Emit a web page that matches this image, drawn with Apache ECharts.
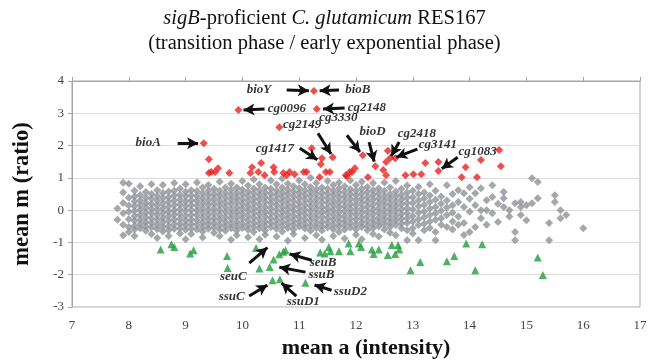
<!DOCTYPE html>
<html>
<head>
<meta charset="utf-8">
<script src="https://cdn.jsdelivr.net/npm/echarts@6/dist/echarts.min.js"></script>
<style>
  html, body {margin: 0; padding: 0; background: #fff;}
  #chart {width: 649px; height: 364px;}
</style>
</head>
<body>
<div id="chart"></div>
<script>
// gray cloud, one entry per x column: [x, [y values]]
const cloud = [
  [7.8, [0.05, -0.3]],
  [7.9, [0.85, 0.55, 0.22, -0.1, -0.45, -0.78]],
  [8.0, [0.82, 0.38, 0.14, -0.05, -0.28, -0.52, -0.68]],
  [8.1, [0.6, 0.42, 0.27, 0.12, -0.03, -0.18, -0.33, -0.48, -0.6, -0.8]],
  [8.2, [0.74, 0.47, 0.31, 0.16, 0.01, -0.14, -0.29, -0.43, -0.56]],
  [8.3, [0.56, 0.39, 0.23, 0.08, -0.07, -0.22, -0.37, -0.51, -0.64]],
  [8.4, [0.8, 0.5, 0.35, 0.19, 0.04, -0.1, -0.25, -0.4, -0.54, -0.74]],
  [8.5, [0.62, 0.44, 0.29, 0.14, 0.0, -0.15, -0.3, -0.45, -0.59, -0.86]],
  [8.6, [0.78, 0.53, 0.37, 0.21, 0.06, -0.09, -0.24, -0.38, -0.52, -0.66]],
  [8.7, [0.58, 0.41, 0.26, 0.11, -0.04, -0.19, -0.34, -0.49, -0.62, -0.8]],
  [8.8, [0.84, 0.6, 0.45, 0.3, 0.15, 0.0, -0.14, -0.29, -0.44, -0.58]],
  [8.9, [0.66, 0.48, 0.33, 0.18, 0.03, -0.12, -0.27, -0.42, -0.56, -0.72]],
  [9.0, [0.8, 0.57, 0.42, 0.27, 0.12, -0.03, -0.18, -0.33, -0.47, -0.61, -0.9]],
  [9.1, [0.62, 0.46, 0.31, 0.16, 0.01, -0.14, -0.29, -0.43, -0.57, -0.74]],
  [9.2, [0.86, 0.59, 0.44, 0.29, 0.14, -0.01, -0.16, -0.31, -0.45, -0.6]],
  [9.3, [0.7, 0.52, 0.37, 0.22, 0.07, -0.08, -0.23, -0.38, -0.52, -0.66, -0.85]],
  [9.4, [0.78, 0.6, 0.45, 0.3, 0.15, 0.0, -0.15, -0.3, -0.44, -0.58]],
  [9.5, [0.66, 0.51, 0.36, 0.21, 0.06, -0.09, -0.24, -0.39, -0.53, -0.7]],
  [9.6, [0.88, 0.6, 0.45, 0.3, 0.15, 0.0, -0.15, -0.3, -0.45, -0.6, -0.8]],
  [9.7, [0.7, 0.54, 0.39, 0.24, 0.09, -0.06, -0.21, -0.36, -0.5, -0.64]],
  [9.8, [0.82, 0.63, 0.48, 0.33, 0.18, 0.03, -0.12, -0.27, -0.42, -0.56, -0.92]],
  [9.9, [0.7, 0.55, 0.4, 0.25, 0.1, -0.05, -0.2, -0.35, -0.49, -0.63, -0.78]],
  [10.0, [0.9, 0.64, 0.49, 0.34, 0.19, 0.04, -0.11, -0.26, -0.41, -0.55]],
  [10.1, [0.76, 0.58, 0.43, 0.28, 0.13, -0.02, -0.17, -0.32, -0.47, -0.61, -0.84]],
  [10.2, [0.95, 0.67, 0.52, 0.37, 0.22, 0.07, -0.08, -0.23, -0.38, -0.52, -0.68]],
  [10.3, [0.8, 0.62, 0.47, 0.32, 0.17, 0.02, -0.13, -0.28, -0.43, -0.57, -0.9]],
  [10.4, [0.7, 0.55, 0.4, 0.25, 0.1, -0.05, -0.2, -0.35, -0.49, -0.63, -0.76]],
  [10.5, [0.92, 0.66, 0.51, 0.36, 0.21, 0.06, -0.09, -0.24, -0.39, -0.53]],
  [10.6, [0.8, 0.61, 0.46, 0.31, 0.16, 0.01, -0.14, -0.29, -0.44, -0.58, -0.82]],
  [10.7, [0.98, 0.7, 0.55, 0.4, 0.25, 0.1, -0.05, -0.2, -0.35, -0.5, -0.66]],
  [10.8, [0.82, 0.64, 0.49, 0.34, 0.19, 0.04, -0.11, -0.26, -0.41, -0.55, -0.95]],
  [10.9, [0.74, 0.58, 0.43, 0.28, 0.13, -0.02, -0.17, -0.32, -0.46, -0.6, -0.74]],
  [11.0, [0.92, 0.68, 0.53, 0.38, 0.23, 0.08, -0.07, -0.22, -0.37, -0.51]],
  [11.1, [0.8, 0.62, 0.47, 0.32, 0.17, 0.02, -0.13, -0.28, -0.43, -0.57, -0.86]],
  [11.2, [1.0, 0.72, 0.57, 0.42, 0.27, 0.12, -0.03, -0.18, -0.33, -0.48, -0.64]],
  [11.3, [0.84, 0.64, 0.49, 0.34, 0.19, 0.04, -0.11, -0.26, -0.41, -0.55, -0.78]],
  [11.4, [0.7, 0.55, 0.4, 0.25, 0.1, -0.05, -0.2, -0.35, -0.49, -0.63, -0.92]],
  [11.5, [0.9, 0.66, 0.51, 0.36, 0.21, 0.06, -0.09, -0.24, -0.39, -0.53]],
  [11.6, [0.78, 0.6, 0.45, 0.3, 0.15, 0.0, -0.15, -0.3, -0.45, -0.59, -0.8]],
  [11.7, [0.86, 0.68, 0.53, 0.38, 0.23, 0.08, -0.07, -0.22, -0.37, -0.51, -0.68]],
  [11.8, [0.74, 0.58, 0.43, 0.28, 0.13, -0.02, -0.17, -0.32, -0.46, -0.6, -0.88]],
  [11.9, [0.92, 0.65, 0.5, 0.35, 0.2, 0.05, -0.1, -0.25, -0.4, -0.54]],
  [12.0, [0.78, 0.6, 0.45, 0.3, 0.15, 0.0, -0.15, -0.3, -0.45, -0.6, -0.76]],
  [12.1, [0.88, 0.66, 0.51, 0.36, 0.21, 0.06, -0.09, -0.24, -0.39, -0.52, -0.9]],
  [12.2, [0.72, 0.56, 0.41, 0.26, 0.11, -0.04, -0.19, -0.34, -0.48, -0.62]],
  [12.3, [0.84, 0.62, 0.47, 0.32, 0.17, 0.02, -0.13, -0.28, -0.42, -0.56, -0.74]],
  [12.4, [0.68, 0.52, 0.37, 0.22, 0.07, -0.08, -0.23, -0.37, -0.5, -0.82]],
  [12.5, [0.86, 0.6, 0.44, 0.29, 0.14, -0.01, -0.16, -0.3, -0.44, -0.6]],
  [12.6, [0.7, 0.5, 0.35, 0.2, 0.05, -0.1, -0.25, -0.39, -0.52, -0.7]],
  [12.7, [0.9, 0.58, 0.42, 0.27, 0.12, -0.03, -0.18, -0.32, -0.46, -0.78]],
  [12.8, [0.66, 0.48, 0.33, 0.18, 0.03, -0.12, -0.27, -0.41, -0.56]],
  [12.9, [0.76, 0.55, 0.38, 0.22, 0.06, -0.1, -0.25, -0.4, -0.62, -0.93]],
  [13.0, [0.6, 0.4, 0.22, 0.02, -0.18, -0.35, -0.55, -0.72]],
  [13.1, [0.72, 0.5, 0.3, 0.12, -0.08, -0.28, -0.46, -0.93]],
  [13.2, [0.55, 0.36, 0.16, -0.04, -0.22, -0.42, -0.62]],
  [13.3, [0.8, 0.45, 0.25, 0.05, -0.15, -0.35, -0.55]],
  [13.4, [0.6, 0.32, 0.1, -0.1, -0.3, -0.68, -0.93]],
  [13.5, [0.42, 0.2, -0.02, -0.25, -0.45]],
  [13.6, [0.77, 0.3, 0.08, -0.15, -0.52]],
  [13.7, [0.5, 0.15, -0.08, -0.35, -0.6]],
  [13.8, [0.62, 0.25, -0.2, -0.45]],
  [13.9, [0.52, 0.1, -0.4, -0.77]],
  [14.0, [0.71, 0.35, -0.05, -0.68]],
  [14.1, [0.52, 0.15, -0.52]],
  [14.2, [0.68, 0.0, -0.25]],
  [14.3, [0.31, 0.0, -0.45]],
  [14.4, [0.77, 0.41, -0.1]],
  [14.5, [0.2, -0.37]],
  [14.6, [0.56, 0.37, 0.1]],
  [14.7, [0.0, -0.2]],
  [14.8, [0.21, -0.68, -0.93]],
  [14.9, [0.25, 0.1, -0.15]],
  [15.0, [0.15, -0.31]],
  [15.1, [0.21, 0.99]],
  [15.2, [0.37, 0.87]],
  [15.4, [-0.4, -0.93]],
  [15.5, [0.46, 0.25]],
  [15.6, [0.0, -0.25]],
  [15.7, [-0.15]],
  [16.0, [-0.56]]
];

// induced genes (red diamonds)
const upPoints = [
  [11.26, 3.69], [9.93, 3.10], [11.31, 3.13], [10.65, 2.57], [9.32, 2.07],
  [11.22, 1.92], [11.59, 1.64], [11.40, 1.61], [11.38, 1.42], [12.12, 1.70],
  [12.34, 1.36], [9.41, 1.58], [9.45, 1.18], [9.52, 1.18], [9.57, 1.30],
  [9.41, 1.15], [9.77, 1.15], [10.17, 1.33], [10.33, 1.46], [10.14, 1.15],
  [10.28, 1.18], [10.39, 1.08], [10.55, 1.33], [10.56, 1.18], [10.72, 1.15],
  [10.83, 1.18], [10.92, 1.11], [10.78, 1.08], [11.08, 1.18], [11.13, 1.18],
  [11.36, 1.02], [11.47, 1.18], [11.54, 1.18], [11.82, 1.08], [11.89, 1.18],
  [11.98, 1.30], [12.21, 1.02], [12.56, 1.84], [12.60, 1.61], [12.69, 1.61],
  [12.53, 1.49], [12.48, 1.24], [12.53, 1.08], [11.93, 1.18], [11.84, 1.05],
  [12.87, 1.08], [13.01, 1.11], [13.15, 1.11], [13.22, 1.46], [13.45, 1.49],
  [13.45, 1.21], [13.93, 1.33], [13.86, 1.02], [14.13, 1.02], [14.20, 1.55],
  [14.52, 1.86], [14.55, 1.36]
];

// repressed genes (green triangles)
const downPoints = [
  [8.56, -1.22], [8.75, -1.06], [8.80, -1.14], [9.08, -1.34], [9.14, -1.24],
  [9.73, -1.42], [9.74, -1.79], [10.24, -1.17], [10.30, -1.81], [10.48, -1.76],
  [10.55, -1.53], [10.65, -1.37], [10.72, -1.29], [10.76, -1.24], [10.53, -2.17],
  [10.66, -2.14], [11.11, -2.25], [11.37, -1.31], [11.45, -1.34], [11.55, -1.27],
  [11.52, -1.14], [11.70, -1.27], [11.87, -1.03], [11.90, -1.27], [12.05, -1.03],
  [12.09, -1.14], [12.28, -1.22], [12.31, -1.36], [12.40, -1.22], [12.63, -1.08],
  [12.74, -1.08], [12.76, -1.22], [12.56, -1.39], [12.69, -1.36], [12.96, -1.86],
  [13.13, -1.61], [13.60, -1.58], [13.73, -1.42], [13.94, -1.03], [14.22, -1.06],
  [14.10, -1.86], [15.20, -1.47], [15.29, -2.01]
];

// gene labels [name, x, y]
const geneLabels = [
  ['bioY', 10.30, 3.72], ['bioB', 12.04, 3.72], ['cg0096', 10.79, 3.13],
  ['cg2148', 12.20, 3.16], ['bioA', 8.35, 2.07], ['cg2149', 11.06, 2.63],
  ['cg1417', 10.58, 1.89], ['cg3330', 11.70, 2.85], ['bioD', 12.30, 2.41],
  ['cg2418', 13.08, 2.35], ['cg3141', 13.45, 2.01], ['cg1083', 14.15, 1.80],
  ['seuC', 9.85, -2.07], ['seuB', 11.43, -1.64], ['ssuB', 11.40, -2.01],
  ['ssuC', 9.82, -2.69], ['ssuD1', 11.08, -2.85], ['ssuD2', 11.91, -2.54]
];

// arrows [x1, y1, x2, y2]
const arrows = [
  [10.78, 3.72, 11.17, 3.70], [11.70, 3.72, 11.36, 3.70],
  [10.39, 3.13, 10.02, 3.10], [11.80, 3.16, 11.42, 3.13],
  [8.86, 2.07, 9.22, 2.07], [11.33, 2.38, 11.56, 1.74],
  [11.01, 1.92, 11.32, 1.56], [11.84, 2.32, 12.07, 1.80],
  [12.23, 2.11, 12.32, 1.50], [12.76, 2.11, 12.62, 1.68],
  [13.08, 1.89, 12.71, 1.64], [13.79, 1.64, 13.51, 1.28],
  [10.12, -1.64, 10.44, -1.16], [11.22, -1.55, 10.83, -1.36],
  [11.11, -1.92, 10.65, -1.77], [10.12, -2.66, 10.44, -2.32],
  [10.95, -2.66, 10.69, -2.26], [11.57, -2.48, 11.27, -2.32]
];

const serif = '"Liberation Serif", "DejaVu Serif", serif';
const grayData = cloud.flatMap(([x, ys]) => ys.map(y => [x, y]));

const chart = echarts.init(document.getElementById('chart'));
chart.setOption({
  animation: false,
  backgroundColor: '#fff',
  title: {
    left: 'center',
    top: 1,
    text: '{i|sigB}{n|-proficient }{i|C. glutamicum}{n| RES167}\n{n|(transition phase / early exponential phase)}',
    textStyle: {
      fontFamily: serif, fontSize: 20.5, fontWeight: 'normal', color: '#111', lineHeight: 25,
      rich: {
        i: {fontFamily: serif, fontSize: 20.5, fontStyle: 'italic', color: '#111', lineHeight: 25},
        n: {fontFamily: serif, fontSize: 20.5, color: '#111', lineHeight: 25}
      }
    }
  },
  grid: {
    left: 72, right: 9, top: 81, bottom: 57,
    outerBoundsMode: 'none',
    show: true, borderColor: '#a6a6a6', borderWidth: 1
  },
  xAxis: [{
    type: 'value',
    min: 7, max: 17, interval: 1,
    name: 'mean a (intensity)',
    nameLocation: 'middle',
    nameGap: 30,
    nameTextStyle: {fontFamily: serif, fontSize: 22, fontWeight: 'bold', color: '#111', padding: [0, 0, 0, 20]},
    axisLine: {show: false},
    axisTick: {show: false},
    axisLabel: {fontFamily: serif, fontSize: 13, color: '#444', margin: 12},
    splitLine: {show: false}
  }, {
    type: 'value',
    min: 7, max: 17, interval: 1,
    axisLine: {show: true, onZero: true, lineStyle: {color: '#a6a6a6', width: 1}},
    axisTick: {show: true, length: 4, lineStyle: {color: '#a6a6a6'}},
    axisLabel: {show: false},
    splitLine: {show: false}
  }],
  yAxis: {
    type: 'value',
    min: -3, max: 4, interval: 1,
    name: 'mean m (ratio)',
    nameLocation: 'middle',
    nameGap: 38,
    nameTextStyle: {fontFamily: serif, fontSize: 22.5, fontWeight: 'bold', color: '#111'},
    axisLine: {show: true, lineStyle: {color: '#a6a6a6'}},
    axisTick: {show: true, length: 4, lineStyle: {color: '#a6a6a6'}},
    axisLabel: {fontFamily: serif, fontSize: 13, color: '#444', margin: 8},
    splitLine: {lineStyle: {color: '#dcdcdc', width: 1}}
  },
  series: [{
    type: 'scatter',
    data: grayData,
    symbol: 'diamond',
    symbolSize: 8,
    itemStyle: {color: '#8f9197'},
    silent: true
  }, {
    type: 'scatter',
    data: upPoints,
    symbol: 'diamond',
    symbolSize: 8,
    itemStyle: {color: '#e8231f'},
    silent: true
  }, {
    type: 'scatter',
    data: downPoints,
    symbol: 'triangle',
    symbolSize: 8,
    itemStyle: {color: '#1f9e3a'},
    silent: true
  }, {
    type: 'scatter',
    data: geneLabels.map(([name, x, y]) => ({name, value: [x, y]})),
    symbolSize: 1,
    itemStyle: {color: 'rgba(0,0,0,0)'},
    silent: true,
    label: {
      show: true, position: [0, 0], align: 'center', verticalAlign: 'middle', formatter: '{b}',
      fontFamily: serif, fontSize: 13, fontWeight: 'bold', fontStyle: 'italic', color: '#000'
    },
    markLine: {
      silent: true,
      symbol: ['none', 'arrow'],
      symbolSize: [9, 11],
      label: {show: false},
      lineStyle: {color: '#111', width: 3, type: 'solid'},
      data: arrows.map(([x1, y1, x2, y2]) => [{coord: [x1, y1]}, {coord: [x2, y2]}])
    }
  }]
});
</script>
</body>
</html>
